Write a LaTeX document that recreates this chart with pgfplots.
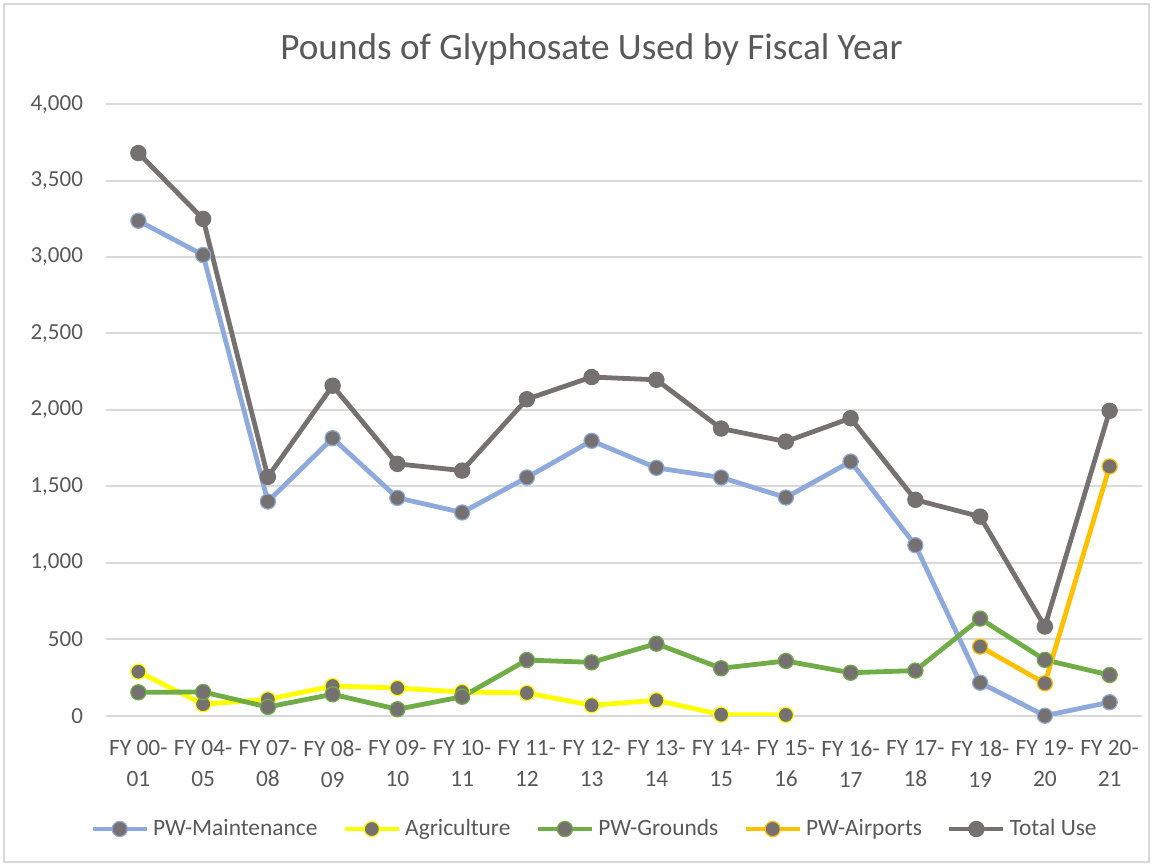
\documentclass[border=0pt]{standalone}
\usepackage{pgfplots}
\pgfplotsset{compat=1.18}
\usepackage{fontspec}
\setmainfont{Carlito}
\definecolor{maint}{HTML}{8EA9DB}
\definecolor{agri}{HTML}{FFFF00}
\definecolor{grounds}{HTML}{70AD47}
\definecolor{airports}{HTML}{FFC000}
\definecolor{total}{HTML}{767171}
\definecolor{gridc}{HTML}{D9D9D9}
\definecolor{textc}{HTML}{595959}
\begin{document}
\begin{tikzpicture}
\useasboundingbox (0pt,0pt) rectangle (576.5pt,432pt);
\draw[gridc, line width=0.75pt] (2pt,1pt) rectangle (574.5pt,430pt);
\node[text=textc, font=\fontsize{18.6}{22}\selectfont] at (295.75pt,407pt) {Pounds of Glyphosate Used by Fiscal Year};
\begin{axis}[
  at={(53pt,74.15pt)}, anchor=south west,
  scale only axis, width=518pt, height=305.8pt,
  xmin=-0.5, xmax=15.5, ymin=0, ymax=4000,
  xtick={0,...,15},
  xticklabels={{FY 00-\\01},{FY 04-\\05},{FY 07-\\08},{FY 08-\\09},{FY 09-\\10},{FY 10-\\11},{FY 11-\\12},{FY 12-\\13},{FY 13-\\14},{FY 14-\\15},{FY 15-\\16},{FY 16-\\17},{FY 17-\\18},{FY 18-\\19},{FY 19-\\20},{FY 20-\\21}},
  xticklabel style={align=center, yshift=-9pt, font=\fontsize{11.7}{15.5}\selectfont, text=textc},
  ytick={0,500,...,4000},
  yticklabel style={xshift=-8pt, font=\fontsize{11.5}{13}\selectfont, text=textc},
  /pgf/number format/assume math mode=true,
  /pgf/number format/1000 sep={,},
  scaled y ticks=false,
  ymajorgrids, grid style={gridc, line width=1pt},
  axis line style={draw=none},
  axis x line*=bottom, x axis line style={gridc, line width=1pt},
  tick style={draw=none},
  every axis plot/.append style={line width=2.4pt, mark=*, mark size=3.8pt},
  legend columns=5,
  legend style={at={(0.4725,-0.1853)}, anchor=center, draw=none, font=\fontsize{11.7}{13}\selectfont, text=textc, /tikz/every even column/.append style={column sep=10.5pt}},
  legend image code/.code={\draw[mark repeat=2,mark phase=2,#1] plot coordinates {(0pt,0pt) (13.5pt,0pt) (27pt,0pt)};},
]
\addplot[maint, mark options={fill=total, draw=maint, line width=0.6pt}] coordinates {
(0,3237) (1,3013) (2,1401) (3,1815) (4,1425) (5,1329) (6,1558) (7,1798) (8,1621) (9,1558) (10,1427) (11,1662) (12,1115) (13,216) (14,0) (15,88)};
\addlegendentry{PW-Maintenance}
\addplot[agri, mark options={fill=total, draw=agri, line width=0.6pt}] coordinates {
(0,288) (1,75) (2,107) (3,194) (4,181) (5,155) (6,149) (7,68) (8,101) (9,7) (10,5)};
\addlegendentry{Agriculture}
\addplot[grounds, mark options={fill=total, draw=grounds, line width=0.6pt}] coordinates {
(0,153) (1,155) (2,57) (3,140) (4,42) (5,124) (6,364) (7,349) (8,471) (9,310) (10,358) (11,281) (12,295) (13,635) (14,365) (15,266)};
\addlegendentry{PW-Grounds}
\addplot[airports, mark options={fill=total, draw=airports, line width=0.6pt}] coordinates {
(13,452) (14,212) (15,1630)};
\addlegendentry{PW-Airports}
\addplot[total, mark options={fill=total, draw=total, line width=0.6pt}] coordinates {
(0,3680) (1,3249) (2,1562) (3,2158) (4,1647) (5,1603) (6,2070) (7,2215) (8,2197) (9,1878) (10,1793) (11,1946) (12,1412) (13,1302) (14,583) (15,1994)};
\addlegendentry{Total Use}
\end{axis}
\end{tikzpicture}
\end{document}
